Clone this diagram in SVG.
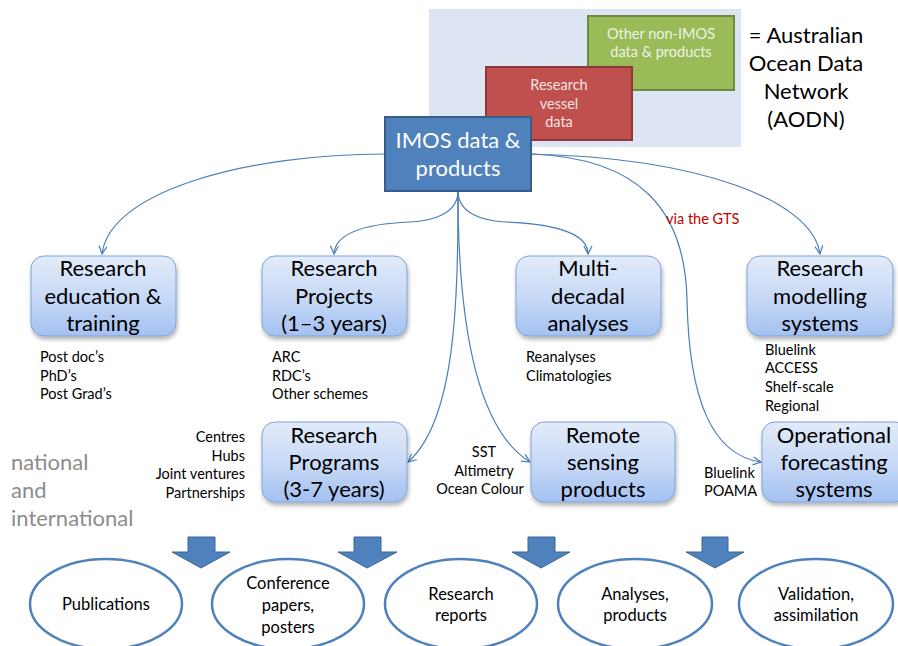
<svg xmlns="http://www.w3.org/2000/svg" width="898" height="646" viewBox="0 0 898 646">
<defs>
<linearGradient id="boxg" x1="0" y1="0" x2="0" y2="1">
<stop offset="0" stop-color="#e2ebf9"/>
<stop offset="0.5" stop-color="#c8daf6"/>
<stop offset="1" stop-color="#a4c1f1"/>
</linearGradient>
<filter id="sh" x="-10%" y="-10%" width="125%" height="130%">
<feDropShadow dx="1" dy="3" stdDeviation="2" flood-color="#000" flood-opacity="0.3"/>
</filter>
<marker id="arr" viewBox="0 0 10 10" refX="9" refY="5" markerWidth="10" markerHeight="10" markerUnits="userSpaceOnUse" orient="auto">
<path d="M1,1 L9,5 L1,9" fill="none" stroke="#4a7ebb" stroke-width="1.2"/>
</marker>
</defs>
<style>
text{font-family:Lato,"Liberation Sans",sans-serif;}
.box{fill:url(#boxg);stroke:#7fa3d8;stroke-width:1;filter:url(#sh);}
.bt{font-size:22px;fill:#000;text-anchor:middle;}
.sm{font-size:14.5px;fill:#000;}
.ell{fill:#fff;stroke:#4f81bd;stroke-width:2.5;}
.et{font-size:16.5px;fill:#000;text-anchor:middle;}
.ba{fill:#4f81bd;stroke:#3a6596;stroke-width:1;}
.con{fill:none;stroke:#4a7ebb;stroke-width:1.2;marker-end:url(#arr);}
.nat{font-size:22px;fill:#8c8c8c;}
</style>
<rect width="898" height="646" fill="#fff"/>

<g id="aodn">
<rect x="429" y="9" width="312" height="138" fill="#dce5f1"/>
<text x="806" y="43" font-size="22" text-anchor="middle" fill="#000">= Australian</text>
<text x="806" y="71" font-size="22" text-anchor="middle" fill="#000">Ocean Data</text>
<text x="806" y="99" font-size="22" text-anchor="middle" fill="#000">Network</text>
<text x="806" y="127" font-size="22" text-anchor="middle" fill="#000">(AODN)</text>
</g>
<g id="other">
<rect x="588" y="16" width="146" height="74" fill="#9bbb59" stroke="#71893f" stroke-width="2"/>
<text x="661" y="39" font-size="14.5" text-anchor="middle" fill="#eef3e4">Other non-IMOS</text>
<text x="661" y="57" font-size="14.5" text-anchor="middle" fill="#eef3e4">data &amp; products</text>
</g>
<g id="vessel">
<rect x="486" y="67" width="146" height="73" fill="#c0504d" stroke="#8c3836" stroke-width="2"/>
<text x="559" y="90" font-size="14.5" text-anchor="middle" fill="#f6e4e3">Research</text>
<text x="559" y="109" font-size="14.5" text-anchor="middle" fill="#f6e4e3">vessel</text>
<text x="559" y="127" font-size="14.5" text-anchor="middle" fill="#f6e4e3">data</text>
</g>

<g id="connectors">
<path class="con" d="M385,154 C250,154 110,190 102,254"/>
<path class="con" d="M458,191 C458,214 432,221 410,222 C362,224 335,234 334,254"/>
<path class="con" d="M458,191 C458,214 484,221 506,222 C556,224 588,234 588,254"/>
<path class="con" d="M458,191 C458,300 456,420 408,462"/>
<path class="con" d="M458,191 C458,300 470,425 530,462"/>
<path class="con" d="M531,154 C700,158 812,200 820,254"/>
<path class="con" d="M531,154 C640,158 685,210 687,300 C689,400 712,455 761,462"/>
</g>

<g id="imos">
<rect x="385" y="117" width="146" height="74" fill="#4f81bd" stroke="#385d8a" stroke-width="2"/>
<text x="458" y="148" font-size="22" text-anchor="middle" fill="#fff">IMOS data &amp;</text>
<text x="458" y="176" font-size="22" text-anchor="middle" fill="#fff">products</text>
</g>

<text x="666" y="224" font-size="14.5" fill="#c00000">via the GTS</text>

<g id="education">
<rect class="box" x="31" y="256" width="145" height="80" rx="13"/>
<text class="bt" x="103" y="276">Research</text>
<text class="bt" x="103" y="304">education &amp;</text>
<text class="bt" x="103" y="331">training</text>
<text class="sm" x="40" y="362">Post doc’s</text>
<text class="sm" x="40" y="381">PhD’s</text>
<text class="sm" x="40" y="399">Post Grad’s</text>
</g>
<g id="projects">
<rect class="box" x="262" y="256" width="145" height="80" rx="13"/>
<text class="bt" x="334" y="276">Research</text>
<text class="bt" x="334" y="304">Projects</text>
<text class="bt" x="334" y="331">(1–3 years)</text>
<text class="sm" x="272" y="362">ARC</text>
<text class="sm" x="272" y="381">RDC’s</text>
<text class="sm" x="272" y="399">Other schemes</text>
</g>
<g id="multidecadal">
<rect class="box" x="516" y="256" width="145" height="80" rx="13"/>
<text class="bt" x="588" y="276">Multi-</text>
<text class="bt" x="588" y="304">decadal</text>
<text class="bt" x="588" y="331">analyses</text>
<text class="sm" x="526" y="362">Reanalyses</text>
<text class="sm" x="526" y="381">Climatologies</text>
</g>
<g id="modelling">
<rect class="box" x="747" y="256" width="146" height="80" rx="13"/>
<text class="bt" x="820" y="276">Research</text>
<text class="bt" x="820" y="304">modelling</text>
<text class="bt" x="820" y="331">systems</text>
<text class="sm" x="765" y="355">Bluelink</text>
<text class="sm" x="765" y="373">ACCESS</text>
<text class="sm" x="765" y="392">Shelf-scale</text>
<text class="sm" x="765" y="411">Regional</text>
</g>
<g id="programs">
<rect class="box" x="262" y="422" width="145" height="80" rx="13"/>
<text class="bt" x="334" y="443">Research</text>
<text class="bt" x="334" y="470">Programs</text>
<text class="bt" x="334" y="497">(3-7 years)</text>
<text class="sm" x="245" y="442" text-anchor="end">Centres</text>
<text class="sm" x="245" y="461" text-anchor="end">Hubs</text>
<text class="sm" x="245" y="479" text-anchor="end">Joint ventures</text>
<text class="sm" x="245" y="498" text-anchor="end">Partnerships</text>
</g>
<g id="remote">
<rect class="box" x="531" y="422" width="144" height="80" rx="13"/>
<text class="bt" x="603" y="443">Remote</text>
<text class="bt" x="603" y="470">sensing</text>
<text class="bt" x="603" y="497">products</text>
<text class="sm" x="484" y="457" text-anchor="middle">SST</text>
<text class="sm" x="484" y="476" text-anchor="middle">Altimetry</text>
<text class="sm" x="480" y="494" text-anchor="middle">Ocean Colour</text>
</g>
<g id="operational">
<rect class="box" x="762" y="422" width="146" height="80" rx="13"/>
<text class="bt" x="834" y="443">Operational</text>
<text class="bt" x="834" y="470">forecasting</text>
<text class="bt" x="834" y="497">systems</text>
<text class="sm" x="704" y="478">Bluelink</text>
<text class="sm" x="704" y="496">POAMA</text>
</g>

<g id="national">
<text class="nat" x="11" y="470">national</text>
<text class="nat" x="11" y="498">and</text>
<text class="nat" x="11" y="526">international</text>
</g>

<g id="block-arrows">
<path class="ba" d="M188,537 H215 V552 H230 L201,568 L172,552 H188 Z"/>
<path class="ba" d="M354,537 H381 V552 H397 L367,568 L338,552 H354 Z"/>
<path class="ba" d="M528,537 H555 V552 H570 L541,568 L512,552 H528 Z"/>
<path class="ba" d="M702,537 H728 V552 H744 L715,568 L686,552 H702 Z"/>
</g>

<g id="publications">
<ellipse class="ell" cx="106" cy="604" rx="76" ry="45"/>
<text class="et" x="106" y="610">Publications</text>
</g>
<g id="conference">
<ellipse class="ell" cx="288" cy="604" rx="76" ry="45"/>
<text class="et" x="288" y="589">Conference</text>
<text class="et" x="288" y="611">papers,</text>
<text class="et" x="288" y="633">posters</text>
</g>
<g id="reports">
<ellipse class="ell" cx="461" cy="604" rx="76" ry="45"/>
<text class="et" x="461" y="600">Research</text>
<text class="et" x="461" y="621">reports</text>
</g>
<g id="analyses">
<ellipse class="ell" cx="635" cy="604" rx="77" ry="45"/>
<text class="et" x="635" y="600">Analyses,</text>
<text class="et" x="635" y="621">products</text>
</g>
<g id="validation">
<ellipse class="ell" cx="816" cy="604" rx="77" ry="45"/>
<text class="et" x="816" y="600">Validation,</text>
<text class="et" x="816" y="621">assimilation</text>
</g>
</svg>
